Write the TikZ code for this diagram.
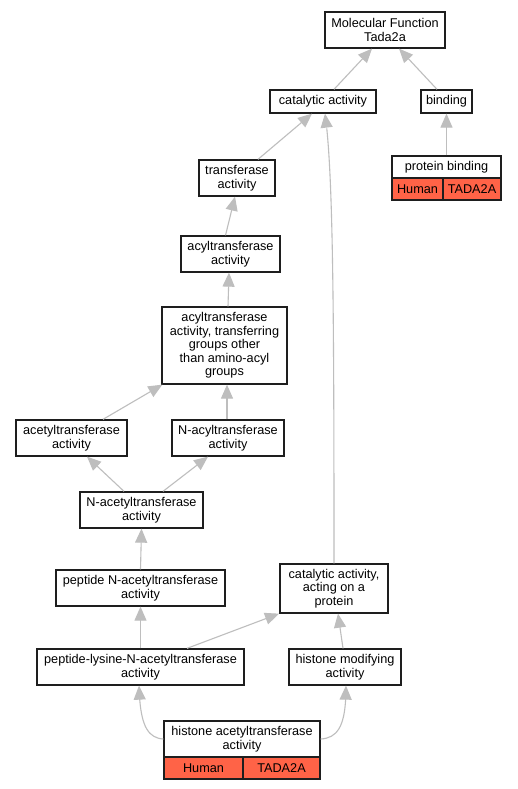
\documentclass[tikz,border=0pt]{standalone}
\usepackage{fontspec}
\setmainfont{Liberation Sans}
\usetikzlibrary{arrows.meta,bending}
\definecolor{edgegray}{RGB}{190,190,190}
\definecolor{hum}{RGB}{255,99,71}
\definecolor{boxline}{RGB}{30,30,30}
\tikzset{
  box/.style={draw=boxline, line width=1.3pt, fill=white, align=center, inner sep=0pt,
    font=\fontsize{12.7}{13.5}\selectfont},
  redbox/.style={box, fill=hum},
  edge/.style={draw=edgegray, line width=1.1pt, -{Triangle[length=14pt,width=12pt,fill=edgegray,color=edgegray]}},
}
\begin{document}
\begin{tikzpicture}[x=1pt,y=-1pt]
\useasboundingbox[fill=white] (0,0) rectangle (517,789);
% nodes
\node[box, minimum width=120, minimum height=36] (mf) at (385,30) {Molecular Function\\Tada2a};
\node[box, minimum width=106, minimum height=23] (cat) at (323,101.5) {catalytic activity};
\node[box, minimum width=51, minimum height=23] (bind) at (446.5,101.5) {binding};
\node[box, minimum width=109, minimum height=22] (pb) at (446.5,167) {protein binding};
\node[redbox, minimum width=51, minimum height=22] (pbh) at (417.5,189) {Human};
\node[redbox, minimum width=58, minimum height=22] (pbt) at (472,189) {TADA2A};
\node[box, minimum width=76, minimum height=36] (tr) at (237,178) {transferase\\activity};
\node[box, minimum width=99, minimum height=36] (acyl) at (230.5,254) {acyltransferase\\activity};
\node[box, minimum width=125, minimum height=77] (grp) at (224.5,345.5) {acyltransferase\\activity, transferring\\groups other\\than amino-acyl\\groups};
\node[box, minimum width=111, minimum height=36] (acet) at (71.5,438) {acetyltransferase\\activity};
\node[box, minimum width=112, minimum height=36] (nacyl) at (228,438) {N-acyltransferase\\activity};
\node[box, minimum width=123, minimum height=36] (nacet) at (141.5,510) {N-acetyltransferase\\activity};
\node[box, minimum width=169, minimum height=36] (pna) at (140.5,588) {peptide N-acetyltransferase\\activity};
\node[box, minimum width=108, minimum height=49] (cap) at (334,588.5) {catalytic activity,\\acting on a\\protein};
\node[box, minimum width=207, minimum height=36] (plk) at (140.5,667) {peptide-lysine-N-acetyltransferase\\activity};
\node[box, minimum width=112, minimum height=36] (hm) at (345,667) {histone modifying\\activity};
\node[box, minimum width=156, minimum height=36] (hat) at (242,739) {histone acetyltransferase\\activity};
\node[redbox, minimum width=79, minimum height=22] (hath) at (203.5,768) {Human};
\node[redbox, minimum width=77, minimum height=22] (hatt) at (281.5,768) {TADA2A};
% edges
\draw[edge] ([xshift=11]cat.north) -- ([xshift=-13]mf.south);
\draw[edge] ([xshift=-9.5]bind.north) -- ([xshift=14]mf.south);
\draw[edge] (pb.north) -- (bind.south);
\draw[edge] ([xshift=21]tr.north) -- ([xshift=-11]cat.south);
\draw[edge] (cap.north) .. controls (334,300) and (333,170) .. ([xshift=2]cat.south);
\draw[edge] ([xshift=-5]acyl.north) -- ([xshift=-2]tr.south);
\draw[edge] ([xshift=3.5]grp.north) -- ([xshift=-1.5]acyl.south);
\draw[edge] ([xshift=31.5]acet.north) -- ([xshift=1]grp.south west);
\draw[edge] ([xshift=-1]nacyl.north) -- ([xshift=2.5]grp.south);
\draw[edge] ([xshift=-17.5]nacet.north) -- ([xshift=15.5]acet.south);
\draw[edge] ([xshift=21.5]nacet.north) -- ([xshift=-20]nacyl.south);
\draw[edge] (pna.north) -- (nacet.south);
\draw[edge] (plk.north) -- (pna.south);
\draw[edge] ([xshift=46.5]plk.north) -- ([xshift=-55]cap.south);
\draw[edge] ([xshift=-2]hm.north) -- ([xshift=4]cap.south);
\draw[edge] (hat.west) .. controls (146,738) and (140,722) .. ([xshift=-1.5]plk.south);
\draw[edge] (hat.east) .. controls (340,738) and (346,722) .. ([xshift=1]hm.south);
\end{tikzpicture}
\end{document}
